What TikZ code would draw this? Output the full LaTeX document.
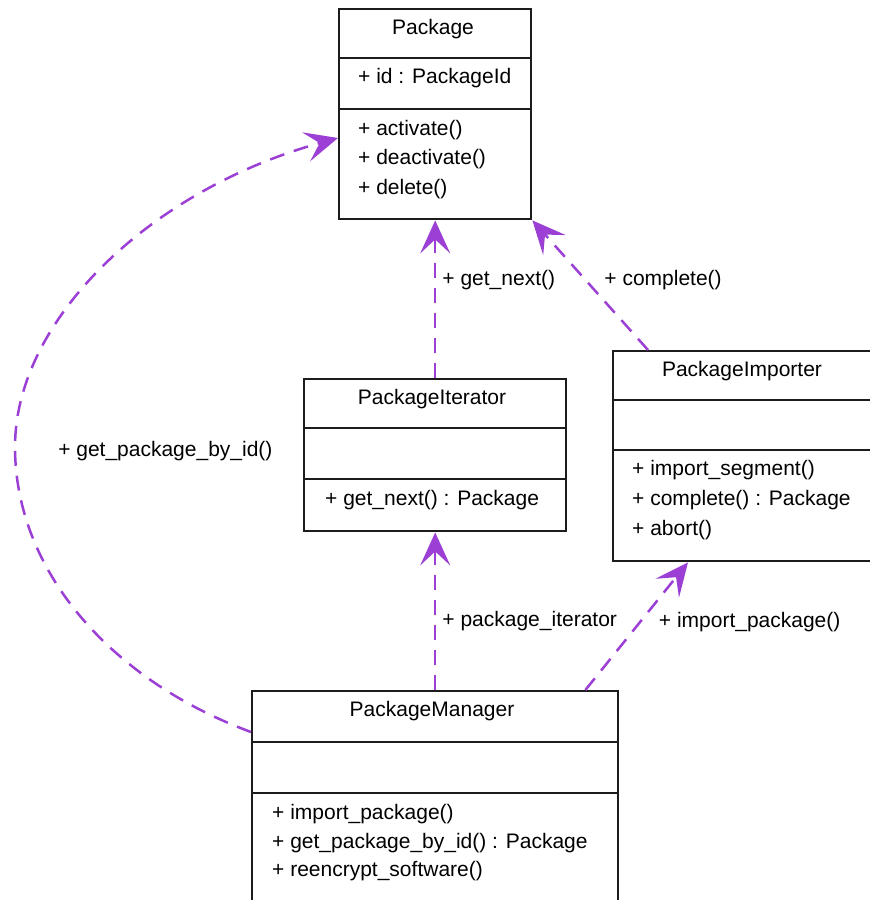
\documentclass[tikz,border=0pt]{standalone}
\usepackage{fontspec}
\setmainfont{Liberation Sans}
\usetikzlibrary{arrows.meta,positioning,calc}
\definecolor{linkcol}{HTML}{9B3FD5}
\definecolor{boxcol}{HTML}{1C1C1C}

\begin{document}
\begin{tikzpicture}[x=1pt, y=-1pt,
  classbox/.style={draw=boxcol, line width=2.4pt, fill=white, inner sep=0pt, anchor=north west},
  divider/.style={draw=boxcol, line width=2.4pt},
  title/.style={font=\fontsize{21}{25}\selectfont, anchor=base, inner sep=0pt},
  member/.style={font=\fontsize{21}{25}\selectfont, anchor=base west, inner sep=0pt},
  dep/.style={draw=linkcol, line width=2.5pt, dash pattern=on 15pt off 10pt,
    -{Stealth[length=33pt, width=30pt, inset=14pt]}},
  lbl/.style={font=\fontsize{21}{25}\selectfont, anchor=base west, inner sep=0pt}
]
  \useasboundingbox (0,0) rectangle (870,900);
  \clip (0,0) rectangle (870,900);

  % Package
  \node[classbox, minimum width=192pt, minimum height=210pt] (pkg) at (338,8) {};
  \draw[divider] ($(pkg.north west)+(0,50)$) -- ($(pkg.north east)+(0,50)$);
  \draw[divider] ($(pkg.north west)+(0,101)$) -- ($(pkg.north east)+(0,101)$);
  \node[title] (pkg-name) at (433,34) {Package};
  \node[member] (pkg-id) at (358,83) {+ id : PackageId};
  \node[member] (pkg-activate) at (358,135) {+ activate()};
  \node[member] (pkg-deactivate) at (358,164) {+ deactivate()};
  \node[member] (pkg-delete) at (358,194) {+ delete()};

  % PackageIterator
  \node[classbox, minimum width=262pt, minimum height=152pt] (iter) at (303,378) {};
  \draw[divider] ($(iter.north west)+(0,50)$) -- ($(iter.north east)+(0,50)$);
  \draw[divider] ($(iter.north west)+(0,101)$) -- ($(iter.north east)+(0,101)$);
  \node[title] (iter-name) at (432,404) {PackageIterator};
  \node[member] (iter-next) at (325,505) {+ get\_next() : Package};

  % PackageImporter
  \node[classbox, minimum width=300pt, minimum height=210pt] (imp) at (612,350) {};
  \draw[divider] ($(imp.north west)+(0,50)$) -- ($(imp.north east)+(0,50)$);
  \draw[divider] ($(imp.north west)+(0,100)$) -- ($(imp.north east)+(0,100)$);
  \node[title] (imp-name) at (742,376) {PackageImporter};
  \node[member] (imp-segment) at (632,475) {+ import\_segment()};
  \node[member] (imp-complete) at (632,505) {+ complete() : Package};
  \node[member] (imp-abort) at (632,535) {+ abort()};

  % PackageManager
  \node[classbox, minimum width=366pt, minimum height=260pt] (mgr) at (251,690) {};
  \draw[divider] ($(mgr.north west)+(0,52)$) -- ($(mgr.north east)+(0,52)$);
  \draw[divider] ($(mgr.north west)+(0,103)$) -- ($(mgr.north east)+(0,103)$);
  \node[title] (mgr-name) at (432,716) {PackageManager};
  \node[member] (mgr-import) at (272,819) {+ import\_package()};
  \node[member] (mgr-getbyid) at (272,848) {+ get\_package\_by\_id() : Package};
  \node[member] (mgr-reencrypt) at (272,876) {+ reencrypt\_software()};

  % dependencies
  \draw[dep] (iter.north) -- (pkg.south)
    node[lbl, pos=0.59, xshift=6pt] {+ get\_next()};
  \draw[dep] ($(imp.north west)+(36,0)$) -- (pkg.south east)
    node[lbl, pos=0.5, xshift=13pt] {+ complete()};
  \draw[dep] (mgr.north) -- (iter.south)
    node[lbl, pos=0.4, xshift=6pt] {+ package\_iterator};
  \draw[dep] ($(mgr.north east)+(-34,0)$) -- ($(imp.south west)+(76,0)$)
    node[lbl, pos=0.49, xshift=22pt] {+ import\_package()};
  \draw[dep] ($(mgr.north west)+(0,42)$) .. controls (110,680) and (15,570) .. (15,447)
    node[lbl, pos=1, xshift=42pt, yshift=-9pt] {+ get\_package\_by\_id()}
    .. controls (15,320) and (150,190) .. ($(pkg.north west)+(0,130)$);
\end{tikzpicture}
\end{document}
